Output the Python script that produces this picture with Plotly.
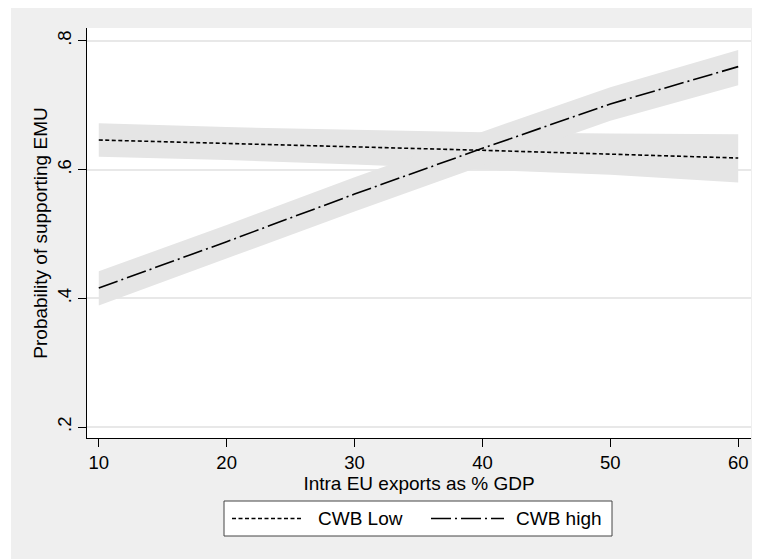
import plotly.graph_objects as go

x_vals = [10, 20, 30, 40, 50, 60]

low_mean = [0.646, 0.641, 0.635, 0.630, 0.624, 0.618]
low_lo = [0.620, 0.615, 0.608, 0.600, 0.592, 0.580]
low_hi = [0.672, 0.666, 0.662, 0.658, 0.656, 0.655]

high_mean = [0.416, 0.488, 0.562, 0.633, 0.702, 0.760]
high_lo = [0.389, 0.462, 0.535, 0.606, 0.676, 0.731]
high_hi = [0.442, 0.514, 0.588, 0.659, 0.728, 0.786]

y_tickvals = [0.2, 0.4, 0.6, 0.8]
y_ticktext = [".2", ".4", ".6", ".8"]
x_tickvals = [10, 20, 30, 40, 50, 60]

series_names = ["CWB Low", "CWB high"]

band_color = "#e5e5e5"
FONT = "Liberation Sans, Arial, Helvetica, sans-serif"
LOW_DASH = "4px,2.5px"
HIGH_DASH = "20px,4px,2px,4px"

# page offset of the figure (browser body margin)
OFF = 8
# plot area geometry in page px
L, R, T, B = 87, 751, 28, 438
W, H = R - L, B - T


def px(xp):
    return (xp - L) / W


def py(yp):
    return (B - yp) / H


fig = go.Figure()

for lo, hi in [(low_lo, low_hi), (high_lo, high_hi)]:
    fig.add_trace(go.Scatter(x=x_vals, y=lo, mode="lines", line=dict(width=0, color=band_color),
                             showlegend=False, hoverinfo="skip"))
    fig.add_trace(go.Scatter(x=x_vals, y=hi, mode="lines", line=dict(width=0, color=band_color),
                             fill="tonexty", fillcolor=band_color, showlegend=False, hoverinfo="skip"))

fig.add_trace(go.Scatter(x=x_vals, y=low_mean, mode="lines", name=series_names[0], showlegend=False,
                         line=dict(color="black", width=1.6, dash=LOW_DASH)))
fig.add_trace(go.Scatter(x=x_vals, y=high_mean, mode="lines", name=series_names[1], showlegend=False,
                         line=dict(color="black", width=1.6, dash=HIGH_DASH)))

# thin white strip on the left of the gray graph region
fig.add_shape(type="rect", xref="paper", yref="paper", x0=px(-20), x1=px(11),
              y0=py(600), y1=py(-20), fillcolor="white", line=dict(width=0), layer="above")

# legend box (Stata style)
fig.add_shape(type="rect", xref="paper", yref="paper", x0=px(224), x1=px(612),
              y0=py(536), y1=py(501), fillcolor="white", line=dict(color="#444444", width=1),
              layer="above")
ly = py(518.5)
fig.add_shape(type="line", xref="paper", yref="paper", x0=px(232), x1=px(302), y0=ly, y1=ly,
              line=dict(color="black", width=1.6, dash=LOW_DASH), layer="above")
fig.add_shape(type="line", xref="paper", yref="paper", x0=px(431), x1=px(504), y0=ly, y1=ly,
              line=dict(color="black", width=1.6, dash=HIGH_DASH), layer="above")
fig.add_annotation(xref="paper", yref="paper", x=px(316), y=ly, text=series_names[0],
                   showarrow=False, xanchor="left", yanchor="middle", font=dict(size=19))
fig.add_annotation(xref="paper", yref="paper", x=px(514), y=ly, text=series_names[1],
                   showarrow=False, xanchor="left", yanchor="middle", font=dict(size=19))

fig.update_layout(
    template="none",
    width=760, height=559,
    margin=dict(l=L - OFF, r=760 - (R - OFF), t=T - OFF, b=559 - (B - OFF), pad=0),
    paper_bgcolor="#efefef",
    plot_bgcolor="white",
    showlegend=False,
    font=dict(family=FONT, size=19, color="black"),
    xaxis=dict(
        range=[9.08, 61.0], tickvals=x_tickvals, showgrid=False, zeroline=False,
        showline=True, linecolor="black", linewidth=1, automargin=False,
        ticks="outside", ticklen=8, tickcolor="black", tickwidth=1,
        tickfont=dict(size=18.5),
        title=dict(text="Intra EU exports as % GDP", font=dict(size=19), standoff=0),
    ),
    yaxis=dict(
        range=[0.183, 0.82], tickvals=y_tickvals, ticktext=y_ticktext, tickangle=-90,
        showgrid=True, gridcolor="#e8e8e8", gridwidth=1.5, zeroline=False,
        showline=True, linecolor="black", linewidth=1, automargin=False,
        ticks="outside", ticklen=8, tickcolor="black", tickwidth=1,
        tickfont=dict(size=18.5),
        title=dict(text="Probability of supporting EMU", font=dict(size=19), standoff=0),
    ),
)

fig.write_html("out.html")
